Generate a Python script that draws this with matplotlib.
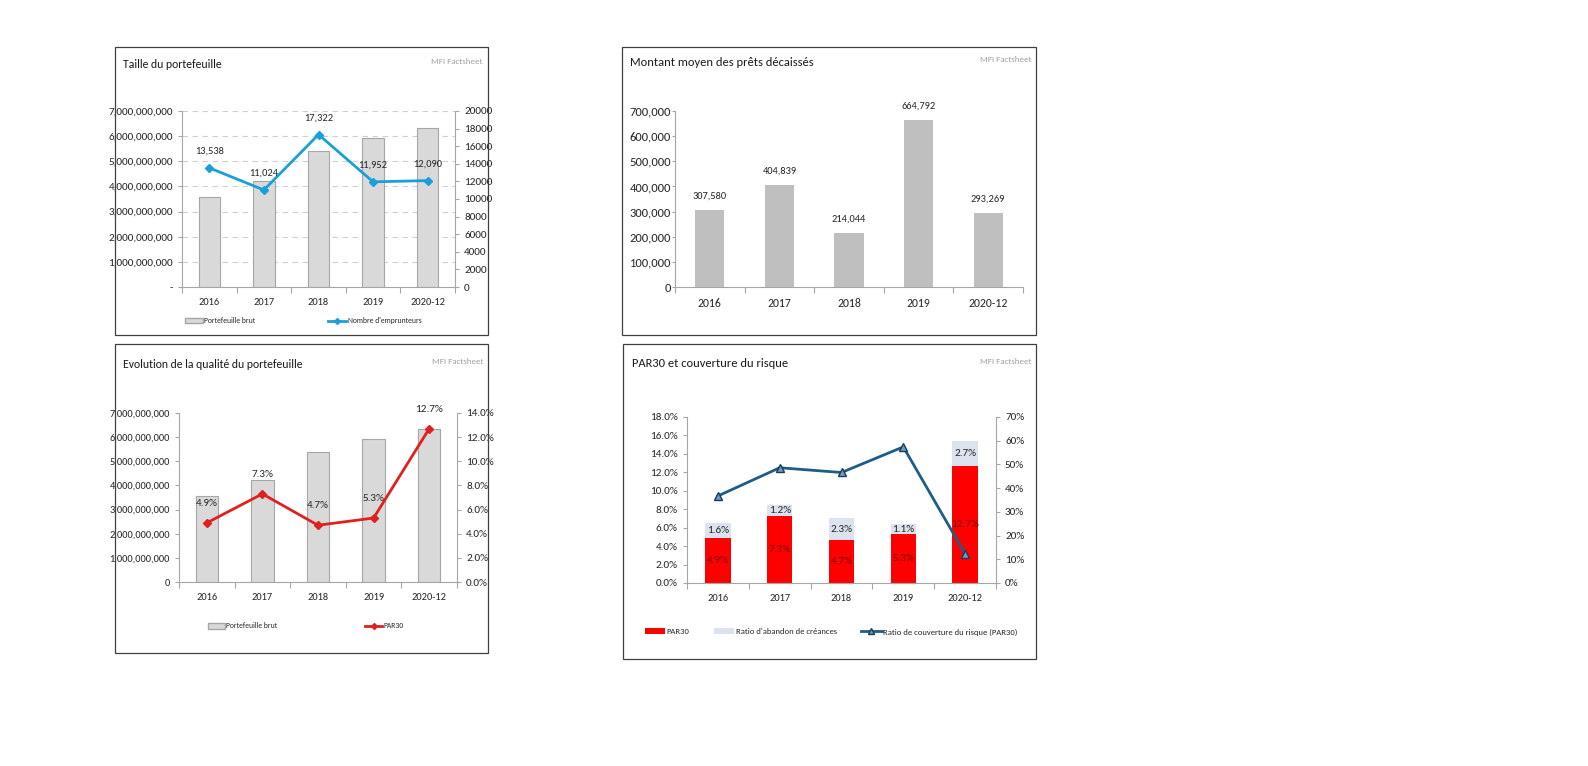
import numpy as np
import matplotlib
matplotlib.use('Agg')
import matplotlib.pyplot as plt
from matplotlib.patches import Rectangle, Patch
from matplotlib.lines import Line2D
from matplotlib.ticker import FuncFormatter

# data
years = ['2016', '2017', '2018', '2019', '2020-12']
portefeuille = [3.56e9, 4.22e9, 5.39e9, 5.94e9, 6.33e9]
emprunteurs = [13538, 11024, 17322, 11952, 12090]
montant_moyen = [307580, 404839, 214044, 664792, 293269]
par30 = [4.9, 7.3, 4.7, 5.3, 12.7]
abandon = [1.6, 1.2, 2.3, 1.1, 2.7]
couverture = [36.7, 48.6, 46.6, 57.4, 12.3]

plt.rcParams['font.family'] = ['Carlito', 'Liberation Sans', 'DejaVu Sans']
plt.rcParams['text.color'] = '#262626'
plt.rcParams['xtick.color'] = '#A6A6A6'
plt.rcParams['ytick.color'] = '#A6A6A6'
plt.rcParams['xtick.labelcolor'] = '#262626'
plt.rcParams['ytick.labelcolor'] = '#262626'

W, H = 1588, 766
fig = plt.figure(figsize=(W/100, H/100), dpi=100)

def box(l, t, r, b):
    return [l/W, 1-b/H, (r-l)/W, (b-t)/H]

def frame(l, t, r, b):
    fig.add_artist(Rectangle((l/W, 1-b/H), (r-l)/W, (b-t)/H, transform=fig.transFigure,
                             fill=False, ec='#404040', lw=0.9))

def head(x, y, title, xr, size):
    fig.text(x/W, 1-y/H, title, fontsize=size, va='center', ha='left', color='#1a1a1a')
    fig.text(xr/W, 1-(y-3)/H, 'MFI Factsheet', fontsize=6.5, va='center', ha='right', color='#a0a0a0')

def style(ax, xs, ys):
    ax.spines['top'].set_visible(False)
    ax.spines['right'].set_visible(False)
    for s in ['left', 'bottom']:
        ax.spines[s].set_color('#A6A6A6')
    x = np.arange(len(years))
    ax.set_xlim(-0.5, len(years)-0.5)
    ax.set_xticks(np.arange(-0.5, len(years)), minor=False)
    ax.set_xticklabels([])
    ax.set_xticks(x, minor=True)
    ax.set_xticklabels(years, minor=True, fontsize=xs)
    ax.tick_params(axis='x', which='minor', length=0, pad=8)
    ax.tick_params(axis='x', which='major', length=4)
    ax.tick_params(axis='y', labelsize=ys, length=3)

def right_axis(ax, ys):
    for s in ['top', 'left', 'bottom']:
        ax.spines[s].set_visible(False)
    ax.spines['right'].set_color('#A6A6A6')
    ax.tick_params(axis='y', labelsize=ys, length=3)

def legend(ax, handles, labels, cx, cy, size, hl, cs):
    ax.legend(handles, labels, ncol=len(labels), frameon=False, fontsize=size, loc='center',
              bbox_to_anchor=(cx/W, 1-cy/H), bbox_transform=fig.transFigure,
              columnspacing=cs, handlelength=hl, handletextpad=0.15)

x = np.arange(len(years))
big = lambda v, p: '-' if v == 0 else f'{v:,.0f}'
big0 = lambda v, p: f'{v:,.0f}'

# ---- panel 1 : Taille du portefeuille
frame(115, 47, 488, 335)
head(123, 65, 'Taille du portefeuille', 483, 8.5)
ax1 = fig.add_axes(box(182, 111, 455, 287))
ax1.bar(x, portefeuille, width=0.39, color='#D9D9D9', edgecolor='#A6A6A6', lw=0.8, zorder=2)
ax1.set_ylim(0, 7e9)
ax1.set_yticks(np.arange(0, 7.1e9, 1e9))
ax1.yaxis.set_major_formatter(FuncFormatter(big))
ax1.grid(axis='y', ls=(0, (5, 4)), color='#D0D0D0', lw=0.8, zorder=0)
style(ax1, 7.5, 8)
ax1b = ax1.twinx()
ax1b.plot(x, emprunteurs, color='#1AA0D8', lw=2, marker='D', ms=4, zorder=3)
ax1b.set_ylim(0, 20000)
ax1b.set_yticks(np.arange(0, 20001, 2000))
right_axis(ax1b, 8)
for i, v in enumerate(emprunteurs):
    ax1b.annotate(f'{v:,}', (x[i], v), xytext=(0, 12), textcoords='offset points',
                  ha='center', va='center', fontsize=7.5)
legend(ax1, [Patch(fc='#D9D9D9', ec='#A6A6A6'),
             Line2D([], [], color='#1AA0D8', lw=2, marker='D', ms=3)],
       ['Portefeuille brut', "Nombre d'emprunteurs"], 303, 321, 5.5, 2.4, 9.5)

# ---- panel 2 : Montant moyen des prets
frame(622, 47, 1036, 335)
head(630, 63, 'Montant moyen des prêts décaissés', 1031, 9)
ax2 = fig.add_axes(box(675, 111, 1023, 287))
ax2.bar(x, montant_moyen, width=0.42, color='#BFBFBF', zorder=2)
ax2.set_ylim(0, 700000)
ax2.set_yticks(np.arange(0, 700001, 100000))
ax2.yaxis.set_major_formatter(FuncFormatter(big0))
style(ax2, 8.5, 9)
ax2.tick_params(axis='y', length=2, pad=1)
for i, v in enumerate(montant_moyen):
    ax2.annotate(f'{v:,}', (x[i], v), xytext=(0, 10), textcoords='offset points',
                 ha='center', va='center', fontsize=7.5)

# ---- panel 3 : Evolution de la qualite
frame(115, 344, 488, 653)
head(123, 365, 'Evolution de la qualité du portefeuille', 484, 8.5)
ax3 = fig.add_axes(box(179, 413, 457, 582))
ax3.bar(x, portefeuille, width=0.4, color='#D9D9D9', edgecolor='#A6A6A6', lw=0.8, zorder=2)
ax3.set_ylim(0, 7e9)
ax3.set_yticks(np.arange(0, 7.1e9, 1e9))
ax3.yaxis.set_major_formatter(FuncFormatter(big0))
style(ax3, 7.5, 7.5)
ax3b = ax3.twinx()
ax3b.plot(x, par30, color='#E02020', lw=2, marker='D', ms=4, zorder=3)
ax3b.set_ylim(0, 14)
ax3b.set_yticks(np.arange(0, 14.1, 2))
ax3b.yaxis.set_major_formatter(FuncFormatter(lambda v, p: f'{v:.1f}%'))
right_axis(ax3b, 8)
for i, v in enumerate(par30):
    ax3b.annotate(f'{v}%', (x[i], v), xytext=(0, 14), textcoords='offset points',
                  ha='center', va='center', fontsize=8)
legend(ax3, [Patch(fc='#D9D9D9', ec='#A6A6A6'),
             Line2D([], [], color='#E02020', lw=2, marker='D', ms=3)],
       ['Portefeuille brut', 'PAR30'], 306, 626, 5.5, 2.2, 11.5)

# ---- panel 4 : PAR30 et couverture du risque
frame(623, 344, 1036, 659)
head(632, 364, 'PAR30 et couverture du risque', 1031, 9)
ax4 = fig.add_axes(box(687, 417, 996, 583))
ax4.bar(x, par30, width=0.41, color='#FF0000', zorder=2)
ax4.bar(x, abandon, bottom=par30, width=0.41, color='#DCE2EE', zorder=2)
ax4.set_ylim(0, 18)
ax4.set_yticks(np.arange(0, 18.1, 2))
ax4.yaxis.set_major_formatter(FuncFormatter(lambda v, p: f'{v:.1f}%'))
style(ax4, 7.5, 8)
for i in range(len(years)):
    ax4.text(x[i], par30[i]/2, f'{par30[i]}%', ha='center', va='center', fontsize=8, color='#7a0000', zorder=4)
    ax4.text(x[i], par30[i]+abandon[i]/2, f'{abandon[i]}%', ha='center', va='center', fontsize=8, zorder=4)
ax4b = ax4.twinx()
ax4b.plot(x, couverture, color='#1F5C86', lw=2, marker='^', ms=6,
          mfc='#6E9BC4', mec='#1B3A5C', zorder=3)
ax4b.set_ylim(0, 70)
ax4b.set_yticks(np.arange(0, 71, 10))
ax4b.yaxis.set_major_formatter(FuncFormatter(lambda v, p: f'{v:.0f}%'))
right_axis(ax4b, 8)
legend(ax4, [Patch(fc='#FF0000'), Patch(fc='#DCE2EE'),
             Line2D([], [], color='#1F5C86', lw=2, marker='^', ms=4, mfc='#6E9BC4', mec='#1B3A5C')],
       ['PAR30', "Ratio d'abandon de créances", 'Ratio de couverture du risque (PAR30)'],
       831, 632, 6.2, 2.4, 2.8)

fig.savefig('out.png', dpi=100)
